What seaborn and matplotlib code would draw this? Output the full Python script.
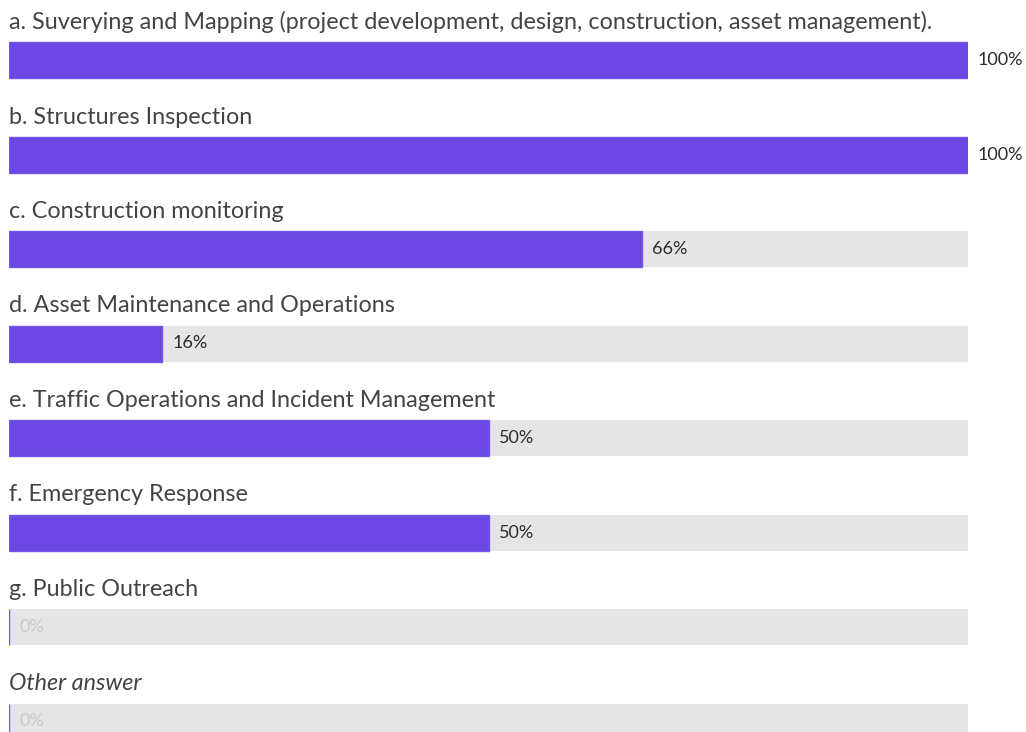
import matplotlib.pyplot as plt
import numpy as np
import pandas as pd
import seaborn as sns

# dati
categorie = [
    "a. Suverying and Mapping (project development, design, construction, asset management).",
    "b. Structures Inspection",
    "c. Construction monitoring",
    "d. Asset Maintenance and Operations",
    "e. Traffic Operations and Incident Management",
    "f. Emergency Response",
    "g. Public Outreach",
    "Other answer",
]
percentuali = [100, 100, 66, 16, 50, 50, 0, 0]

VIOLA = "#6b48e6"
GRIGIO = "#e5e5e5"

sns.set_theme(style="white")
plt.rcParams["font.family"] = ["Lato", "DejaVu Sans"]

df = pd.DataFrame({"categoria": categorie, "valore": percentuali, "fondo": 100})

W, H = 1026, 732
fig = plt.figure(figsize=(W / 100, H / 100), dpi=100)
ax = fig.add_axes([9 / W, 0, (968 - 9) / W, 1])

passo = 94.5
altezza = 36 / passo

sns.barplot(data=df, x="fondo", y="categoria", color=GRIGIO, width=altezza,
            saturation=1, ax=ax, linewidth=0)
sns.barplot(data=df, x="valore", y="categoria", color=VIOLA, width=altezza,
            saturation=1, ax=ax, edgecolor="#7356e8", linewidth=1.0)

ax.set_xlim(0, 100)
ax.set_ylim((H - 60) / passo, -60 / passo)
ax.set_axis_off()

px = 100 / (968 - 9)  # un pixel in unità dati
for i, (cat, val) in enumerate(zip(categorie, percentuali)):
    ax.text(0, i - 31 / passo, cat, fontsize=16.8, color="#444444",
            va="baseline", ha="left",
            style="italic" if cat == "Other answer" else "normal")
    colore = "#cacaca" if val == 0 else "#2b2b2b"
    ax.text(val + 10 * px, i, f"{val}%", fontsize=13, color=colore,
            va="center", ha="left", clip_on=False)

plt.savefig("out.png", dpi=100)
